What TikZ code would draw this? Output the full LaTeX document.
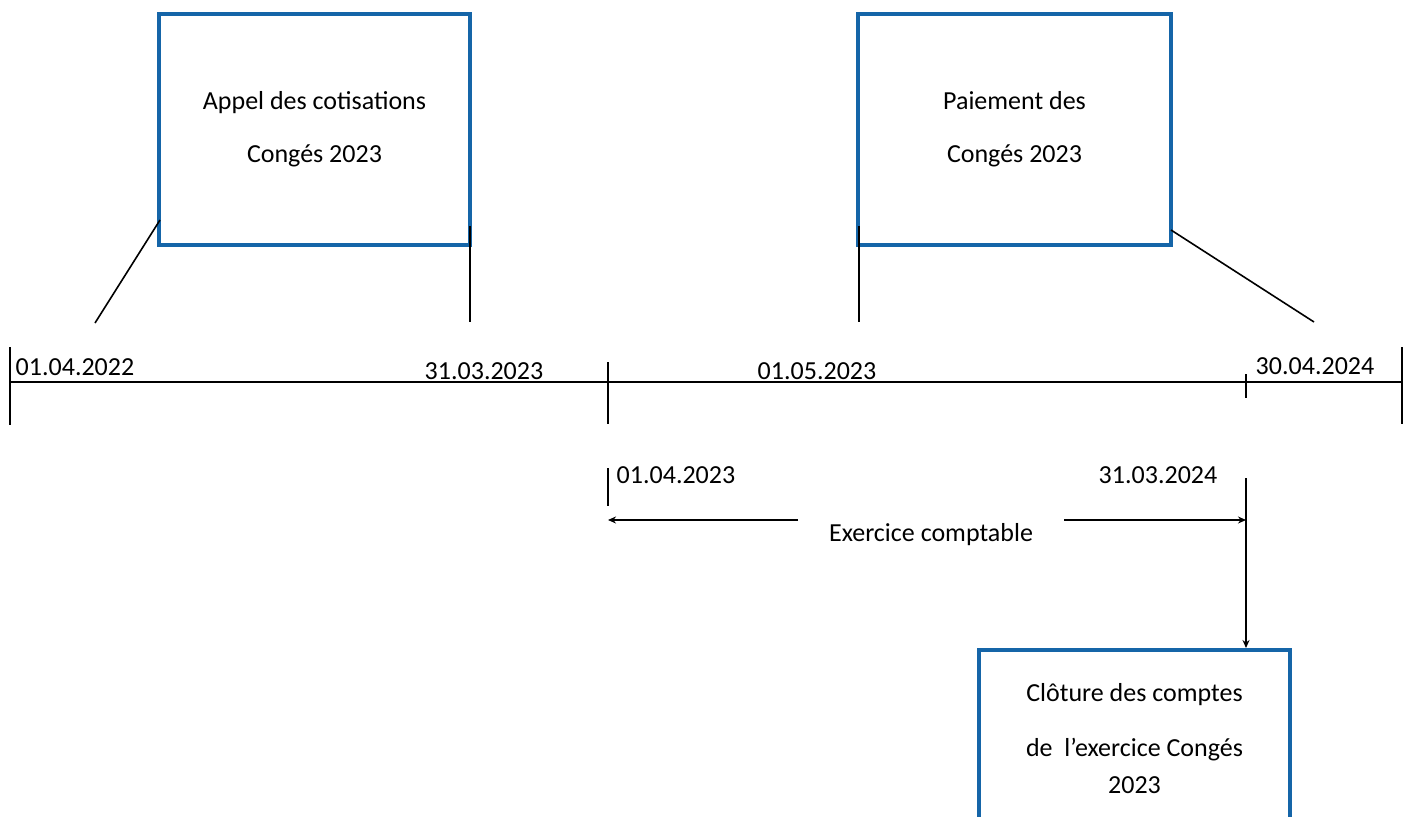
\documentclass[tikz,border=0pt]{standalone}
\usepackage{fontspec}
\setmainfont{Carlito}
\usetikzlibrary{arrows.meta}
\definecolor{boxblue}{HTML}{1565A8}
\tikzset{
  evbox/.style={draw=boxblue, line width=4pt, fill=white, align=center, inner sep=0pt,
    font=\fontsize{26}{37}\selectfont},
  lab/.style={font=\fontsize{26}{30}\selectfont, inner sep=0pt},
  ln/.style={line width=1.6pt, black},
  arr/.style={line width=1.6pt, black, -{Stealth[length=8pt,width=7pt]}}
}
\begin{document}
\begin{tikzpicture}[x=1pt,y=-1pt]
\useasboundingbox (0,0) rectangle (1407,816);
\clip (0,0) rectangle (1407,816);
% boxes
\node[evbox, minimum width=311pt, minimum height=231pt] (a1) at (314.5,129.5) {Appel des cotisations\\[16pt]Congés 2023};
\node[evbox, minimum width=313pt, minimum height=231pt] (p1) at (1014.5,129.5) {Paiement des\\[16pt]Congés 2023};
\node[evbox, minimum width=311pt, minimum height=178pt] (c1) at (1134.5,739) {Clôture des comptes\\[18pt]de\ \ l’exercice Congés\\2023};
% timeline
\coordinate (t0) at (10,382);
\coordinate (t1) at (1402,382);
\draw[ln, line width=2pt] (t0) -- (t1);
\coordinate (k0a) at (10,347); \coordinate (k0b) at (10,425);
\draw[ln] (k0a) -- (k0b);
\coordinate (k1a) at (608,362); \coordinate (k1b) at (608,424);
\draw[ln] (k1a) -- (k1b);
\coordinate (k2a) at (1246,374); \coordinate (k2b) at (1246,398);
\draw[ln] (k2a) -- (k2b);
\coordinate (k3a) at (1402,347); \coordinate (k3b) at (1402,424);
\draw[ln] (k3a) -- (k3b);
% connectors from boxes
\coordinate (d1a) at (160,220); \coordinate (d1b) at (95,323);
\draw[ln] (d1a) -- (d1b);
\coordinate (d2a) at (470,226); \coordinate (d2b) at (470,322);
\draw[ln] (d2a) -- (d2b);
\coordinate (d3a) at (859,226); \coordinate (d3b) at (859,322);
\draw[ln] (d3a) -- (d3b);
\coordinate (d4a) at (1171,230); \coordinate (d4b) at (1314,322);
\draw[ln] (d4a) -- (d4b);
% date labels
\node[lab] (l1) at (75,367) {01.04.2022};
\node[lab] (l2) at (484,371) {31.03.2023};
\node[lab] (l3) at (817,371) {01.05.2023};
\node[lab] (l4) at (1315,366) {30.04.2024};
\node[lab] (l5) at (676,475) {01.04.2023};
\node[lab] (l6) at (1158,475) {31.03.2024};
\node[lab] (ex) at (931,535) {Exercice comptable};
% lower marks
\coordinate (m1a) at (608,468); \coordinate (m1b) at (608,506);
\draw[ln] (m1a) -- (m1b);
\coordinate (v1) at (1246,478);
\draw[arr] (v1) -- (c1.north -| v1);
\coordinate (e1) at (798,520); \coordinate (e1t) at (608,520);
\draw[arr] (e1) -- (e1t);
\coordinate (e2) at (1064,520); \coordinate (e2t) at (1246,520);
\draw[arr] (e2) -- (e2t);
\end{tikzpicture}
\end{document}
